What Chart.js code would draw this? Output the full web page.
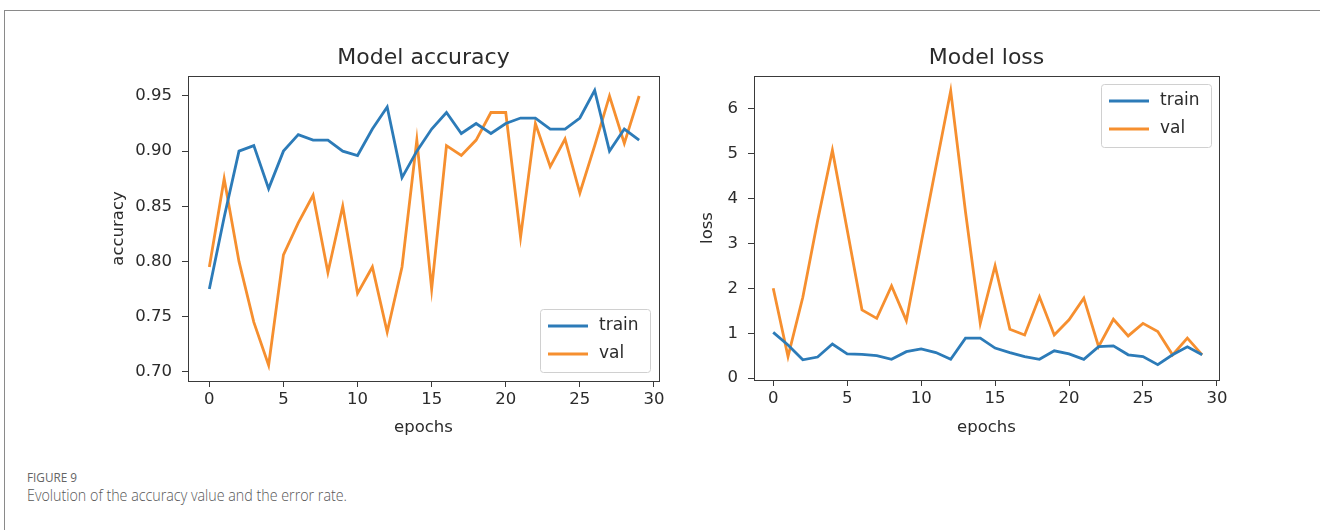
<!DOCTYPE html>
<html>
<head>
<meta charset="utf-8">
<title>Figure 9</title>
<script src="https://cdn.jsdelivr.net/npm/chart.js@4.4.1/dist/chart.umd.min.js"></script>
<style>
  body { margin: 0; background: #fff; width: 1320px; height: 530px; overflow: hidden; position: relative; }
  #panel { position: absolute; left: 4px; top: 10px; width: 1330px; height: 540px; border: 1px solid #8a8a8a; box-sizing: border-box; }
  canvas { position: absolute; top: 30px; }
  #accChart { left: 90px; }
  #lossChart { left: 690px; }
  .cap { position: absolute; left: 27px; font-family: 'Open Sans', sans-serif; white-space: nowrap; transform-origin: left top; }
  #figLabel { top: 471px; font-size: 13.5px; line-height: 13.5px; color: #646464; }
  #figText { top: 487px; font-size: 16.8px; line-height: 16.8px; color: #575757; font-weight: 300; }
</style>
</head>
<body>
<div id="panel"></div>
<canvas id="accChart" width="600" height="430"></canvas>
<canvas id="lossChart" width="560" height="430"></canvas>
<div class="cap" id="figLabel">FIGURE 9</div>
<div class="cap" id="figText">Evolution of the accuracy value and the error rate.</div>
<script>
'use strict';

// data
let epochs = [];
for (let i = 0; i < 30; i++) { epochs.push(i); }

let accTrain = [0.775, 0.840, 0.900, 0.905, 0.866, 0.900, 0.915, 0.910, 0.910, 0.900,
  0.896, 0.920, 0.940, 0.876, 0.900, 0.920, 0.935, 0.916, 0.925, 0.916,
  0.925, 0.930, 0.930, 0.920, 0.920, 0.930, 0.955, 0.900, 0.920, 0.910];
let accVal = [0.795, 0.875, 0.800, 0.745, 0.706, 0.806, 0.835, 0.860, 0.790, 0.850,
  0.771, 0.795, 0.736, 0.795, 0.910, 0.775, 0.905, 0.896, 0.910, 0.935,
  0.935, 0.822, 0.925, 0.886, 0.911, 0.862, 0.905, 0.950, 0.907, 0.950];

let lossTrain = [1.02, 0.74, 0.41, 0.47, 0.76, 0.54, 0.53, 0.50, 0.42, 0.59,
  0.65, 0.57, 0.42, 0.89, 0.89, 0.67, 0.57, 0.48, 0.42, 0.61,
  0.54, 0.42, 0.70, 0.72, 0.52, 0.48, 0.30, 0.52, 0.70, 0.52];
let lossVal = [2.00, 0.48, 1.80, 3.50, 5.07, 3.30, 1.52, 1.33, 2.05, 1.28,
  3.00, 4.70, 6.39, 3.70, 1.22, 2.50, 1.09, 0.96, 1.81, 0.96,
  1.30, 1.78, 0.70, 1.31, 0.94, 1.22, 1.04, 0.52, 0.89, 0.52];

let epochTicks = [0, 5, 10, 15, 20, 25, 30];
let accTicks = [0.70, 0.75, 0.80, 0.85, 0.90, 0.95];
let lossTicks = [0, 1, 2, 3, 4, 5, 6];
let seriesNames = ['train', 'val'];

let blue = '#2c7bb8';
let orange = '#f68f2f';
let axisColor = '#3a3a3a';
let textColor = '#2b2b2b';
let mplFont = "'DejaVu Sans', sans-serif";

function toPoints(values) {
  return values.map((v, i) => ({ x: epochs[i], y: v }));
}

// title, top/right spines and an inset legend
let framePlugin = {
  id: 'frame',
  afterDraw(chart, args, opts) {
    let ctx = chart.ctx;
    let ca = chart.chartArea;
    ctx.save();
    ctx.strokeStyle = axisColor;
    ctx.lineWidth = 1;
    ctx.strokeRect(Math.round(ca.left) + 0.5, Math.round(ca.top) + 0.5,
      Math.round(ca.right - ca.left), Math.round(ca.bottom - ca.top));

    ctx.fillStyle = textColor;
    ctx.font = '22px ' + mplFont;
    ctx.textAlign = 'center';
    ctx.textBaseline = 'middle';
    ctx.fillText(opts.title, (ca.left + ca.right) / 2, opts.titleY);

    // legend box
    let w = 110, h = 63;
    let bx = ca.right - opts.gap - w;
    let by = opts.legendAt === 'bottom' ? ca.bottom - opts.gap - h : ca.top + opts.gap;
    ctx.fillStyle = 'rgba(255,255,255,0.85)';
    ctx.strokeStyle = '#d0d0d0';
    ctx.beginPath();
    ctx.roundRect(bx + 0.5, by + 0.5, w, h, 3);
    ctx.fill();
    ctx.stroke();
    ctx.font = '17px ' + mplFont;
    ctx.textAlign = 'left';
    chart.data.datasets.forEach((ds, i) => {
      let ry = by + 17 + i * 28;
      ctx.strokeStyle = ds.borderColor;
      ctx.lineWidth = 2.8;
      ctx.beginPath();
      ctx.moveTo(bx + 8, ry);
      ctx.lineTo(bx + 48, ry);
      ctx.stroke();
      ctx.fillStyle = textColor;
      ctx.fillText(ds.label, bx + 59, ry);
    });
    ctx.restore();
  }
};

function makeChart(id, cfg) {
  let ctx = document.getElementById(id).getContext('2d');
  return new Chart(ctx, { // eslint-disable-line
    type: 'line',
    data: {
      datasets: [
        { label: seriesNames[0], data: toPoints(cfg.train), borderColor: blue, borderWidth: 2.8, pointRadius: 0, tension: 0 },
        { label: seriesNames[1], data: toPoints(cfg.val), borderColor: orange, borderWidth: 2.8, pointRadius: 0, tension: 0 }
      ]
    },
    plugins: [framePlugin],
    options: {
      responsive: false,
      animation: false,
      devicePixelRatio: 1,
      layout: { padding: { top: 46, right: 31, bottom: 0, left: 0 } },
      plugins: {
        legend: { display: false },
        tooltip: { enabled: false },
        frame: { title: cfg.title, titleY: 28, gap: cfg.gap, legendAt: cfg.legendAt }
      },
      scales: {
        x: {
          type: 'linear',
          min: cfg.xMin,
          max: cfg.xMax,
          afterBuildTicks: (scale) => { scale.ticks = epochTicks.map(v => ({ value: v })); },
          afterFit: (scale) => { scale.height = cfg.xHeight; },
          grid: { drawOnChartArea: false, drawTicks: true, tickLength: 6, color: axisColor },
          border: { display: true, color: axisColor },
          ticks: { color: textColor, font: { family: mplFont, size: 16.5 }, padding: 3, maxRotation: 0 },
          title: { display: true, text: 'epochs', color: textColor, font: { family: mplFont, size: 16.5 }, padding: { top: 0, bottom: 22 } }
        },
        y: {
          min: cfg.yMin,
          max: cfg.yMax,
          afterBuildTicks: (scale) => { scale.ticks = cfg.yTicks.map(v => ({ value: v })); },
          afterFit: (scale) => { scale.width = cfg.yWidth; },
          grid: { drawOnChartArea: false, drawTicks: true, tickLength: 6, color: axisColor },
          border: { display: true, color: axisColor },
          ticks: { color: textColor, font: { family: mplFont, size: 16.5 }, padding: 10, callback: cfg.fmt },
          title: { display: true, text: cfg.yLabel, color: textColor, font: { family: mplFont, size: 16.5 }, padding: { top: cfg.yTitlePad, bottom: 0 } }
        }
      }
    }
  });
}

makeChart('accChart', {
  title: 'Model accuracy', train: accTrain, val: accVal,
  xMin: -1.44, xMax: 30.34, yMin: 0.6916, yMax: 0.9681, yTicks: accTicks,
  fmt: v => v.toFixed(2), yLabel: 'accuracy', yWidth: 98, yTitlePad: 19, xHeight: 79,
  gap: 9, legendAt: 'bottom'
});

makeChart('lossChart', {
  title: 'Model loss', train: lossTrain, val: lossVal,
  xMin: -1.30, xMax: 30.14, yMin: -0.04, yMax: 6.72, yTicks: lossTicks,
  fmt: v => String(v), yLabel: 'loss', yWidth: 64, yTitlePad: 8, xHeight: 80,
  gap: 8, legendAt: 'top'
});

// squeeze the caption lines to the widths seen in the figure
function fitWidth(id, target) {
  let el = document.getElementById(id);
  let w = el.getBoundingClientRect().width;
  el.style.transform = 'scaleX(' + (target / w) + ')';
}
fitWidth('figLabel', 50);
fitWidth('figText', 320);
</script>
</body>
</html>
